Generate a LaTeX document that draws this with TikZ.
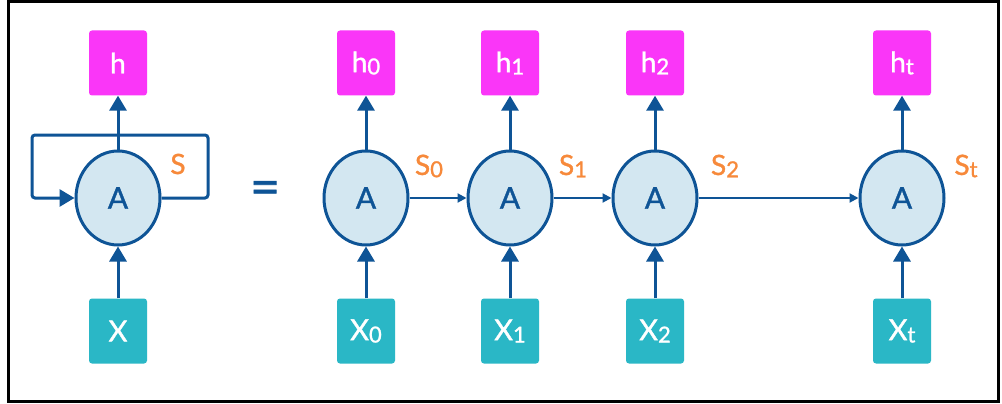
\documentclass[tikz,border=0pt]{standalone}
\usepackage{fontspec}
\setmainfont{Lato}[FakeBold=0.8]
\newfontfamily\medfont{Lato}[FakeBold=1.2]
\usetikzlibrary{shapes.geometric,arrows.meta}
\definecolor{hmag}{HTML}{FA36F8}
\definecolor{xteal}{HTML}{2AB7C6}
\definecolor{cfill}{HTML}{D3E7F1}
\definecolor{dblue}{HTML}{0E5496}
\definecolor{sorange}{HTML}{F7893A}
\newcommand\mysub[1]{\raisebox{-0.08em}{\fontsize{22}{22}\selectfont #1}}
\tikzset{
  hbox/.style={fill=hmag, rounded corners=3pt, minimum width=58pt, minimum height=65pt, inner sep=0pt, text=white, font=\medfont\fontsize{28}{28}\selectfont},
  xbox/.style={fill=xteal, rounded corners=3pt, minimum width=58pt, minimum height=65pt, inner sep=0pt, text=white, font=\medfont\fontsize{29}{29}\selectfont},
  cell/.style={ellipse, draw=dblue, line width=3pt, fill=cfill, minimum width=84pt, minimum height=94pt, inner sep=0pt, text=dblue, font=\medfont\fontsize{30}{30}\selectfont},
  slab/.style={text=sorange, inner sep=0pt, font=\medfont\fontsize{28}{28}\selectfont},
  varrow/.style={draw=dblue, line width=3pt, -{Triangle[width=17pt,length=15pt]}},
  harrow/.style={draw=dblue, line width=2pt, -{Triangle[width=9pt,length=9pt]}},
}
\begin{document}
\begin{tikzpicture}[x=1pt,y=-1pt]
\useasboundingbox (0,0) rectangle (1002,404);
\fill[white] (0,0) rectangle (1002,404);
\draw[line width=3pt] (8.5,1.5) rectangle (998.5,401.5);

% folded RNN
\node[hbox] (h) at (118,63) {h};
\node[xbox] (X) at (118,331) {X};
\node[cell] (A) at (118,198) {A};
\coordinate (lr) at (208,198);
\coordinate (lb) at (32,198);
\draw[line width=3pt, draw=dblue, rounded corners=3pt, -{Triangle[width=17pt,length=15pt]}]
  (A.east) -- (lr) -- ++(0,-63) -| (lb) -- (A.west);
\draw[varrow] (A.north) -- (h.south);
\draw[varrow] (X.north) -- (A.south);
\node[slab] (S) at (178,164) {S};

\node[text=dblue, font=\medfont\fontsize{52}{52}\selectfont] (eq) at (265,193) {=};

% unrolled
\foreach \n/\x/\s in {0/366/0,1/510/1,2/655/2,t/902/t}{
  \node[hbox] (h\n) at (\x,63) {h\mysub{\s}};
  \node[xbox] (X\n) at (\x,331) {X\mysub{\s}};
  \node[cell] (A\n) at (\x,198) {A};
  \draw[varrow] (A\n.north) -- (h\n.south);
  \draw[varrow] (X\n.north) -- (A\n.south);
}
\node[slab] (S0) at (429,166) {S\mysub{0}};
\node[slab] (S1) at (573,166) {S\mysub{1}};
\node[slab] (S2) at (725,166) {S\mysub{2}};
\node[slab] (St) at (966,166) {S\mysub{t}};
\draw[harrow] (A0.east) -- (A1.west);
\draw[harrow] (A1.east) -- (A2.west);
\draw[harrow] (A2.east) -- (At.west);
\end{tikzpicture}
\end{document}
